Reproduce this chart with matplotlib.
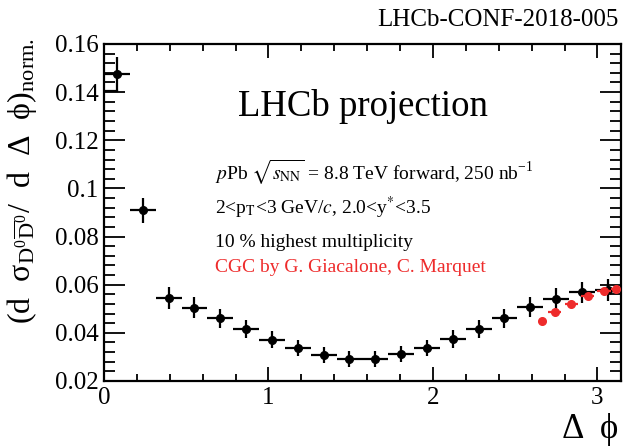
import numpy as np
import matplotlib.pyplot as plt
from matplotlib.ticker import MultipleLocator

plt.rcParams['font.family'] = ['Liberation Serif', 'DejaVu Serif']
plt.rcParams['mathtext.fontset'] = 'stix'

# LHCb projection: D0 D0bar azimuthal correlation, 20 bins in [0, pi]
nbins = 20
edges = np.linspace(0, np.pi, nbins + 1)
dphi = 0.5 * (edges[1:] + edges[:-1])
xerr = 0.5 * np.diff(edges)
dsigma = [0.1475, 0.0910, 0.0545, 0.0505, 0.0461, 0.0415, 0.0372, 0.0336, 0.0308, 0.0292,
          0.0292, 0.0311, 0.0336, 0.0374, 0.0415, 0.0461, 0.0506, 0.0542, 0.0568, 0.0577]
dsigma_err = [0.0072, 0.0052, 0.0046, 0.0042, 0.0040, 0.0038, 0.0036, 0.0034, 0.0033, 0.0032,
              0.0032, 0.0033, 0.0034, 0.0036, 0.0038, 0.0040, 0.0042, 0.0044, 0.0045, 0.0046]

# CGC prediction (G. Giacalone, C. Marquet)
cgc_dphi = [2.66, 2.74, 2.84, 2.94, 3.04, 3.11]
cgc_val = [0.0451, 0.0485, 0.0520, 0.0551, 0.0575, 0.0582]
cgc_xerr = [0.0, 0.04, 0.04, 0.04, 0.04, 0.03]

red = '#ee2b2b'

fig = plt.figure(figsize=(6.28, 4.47), dpi=100)
ax = fig.add_axes([0.1656, 0.1477, 0.8228, 0.7539])

ax.errorbar(dphi, dsigma, xerr=xerr, yerr=dsigma_err, fmt='o', color='black',
            ms=5.5, elinewidth=1.6, capsize=0, zorder=3)
# lower edge of the first bin drawn back to the axis
ax.plot([0, dphi[0]], [dsigma[0] - dsigma_err[0]] * 2, color='black', lw=1.6)
ax.errorbar(cgc_dphi, cgc_val, xerr=cgc_xerr, fmt='o', color=red, ms=5.5,
            elinewidth=1.6, capsize=0, zorder=4)

ax.set_xlim(0, np.pi)
ax.set_ylim(0.02, 0.16)
ax.xaxis.set_major_locator(MultipleLocator(1))
ax.xaxis.set_minor_locator(MultipleLocator(0.2))
ax.yaxis.set_major_locator(MultipleLocator(0.02))
ax.yaxis.set_minor_locator(MultipleLocator(0.004))
ax.yaxis.set_major_formatter(plt.FuncFormatter(lambda v, p: '0.1' if abs(v - 0.1) < 1e-9 else f'{v:.2f}'))
ax.xaxis.set_major_formatter(plt.FuncFormatter(lambda v, p: f'{v:.0f}'))
ax.tick_params(which='both', direction='in', top=True, right=True, labelsize=18, width=1.3)
ax.tick_params(axis='y', which='major', length=15, pad=4)
ax.tick_params(axis='y', which='minor', length=8)
ax.tick_params(axis='x', which='major', length=10, pad=4)
ax.tick_params(axis='x', which='minor', length=5)
for s in ax.spines.values():
    s.set_linewidth(1.6)

fig.text(0.985, 0.955, 'LHCb-CONF-2018-005', ha='right', va='center', fontsize=18)
ax.text(0.26, 0.815, 'LHCb projection', transform=ax.transAxes, ha='left', va='center', fontsize=26.5)
txt_x = 0.215
fs = 14
ax.text(txt_x, 0.62, r'$p$Pb $\sqrt{s_{\mathrm{NN}}}$ = 8.8 TeV forward, 250 nb$^{\mathregular{-1}}$',
        transform=ax.transAxes, ha='left', va='center', fontsize=fs)
ax.text(txt_x, 0.513, r'2<p$_{\mathrm{T}}$<3 GeV/$c$, 2.0<y$^{*}$<3.5',
        transform=ax.transAxes, ha='left', va='center', fontsize=fs)
ax.text(txt_x, 0.41, '10 % highest multiplicity',
        transform=ax.transAxes, ha='left', va='center', fontsize=fs)
ax.text(txt_x, 0.338, 'CGC by G. Giacalone, C. Marquet', color=red,
        transform=ax.transAxes, ha='left', va='center', fontsize=fs)

fig.text(0.035, 0.915, r'(d  σ$_{\mathregular{D^0\overline{D}^0}}$/  d  Δ  ϕ)$_{\mathregular{norm.}}$',
         rotation=90, ha='center', va='top', fontsize=23)
fig.text(0.985, 0.04, 'Δ  ϕ', ha='right', va='center', fontsize=25)

fig.savefig('out.png', dpi=100)
